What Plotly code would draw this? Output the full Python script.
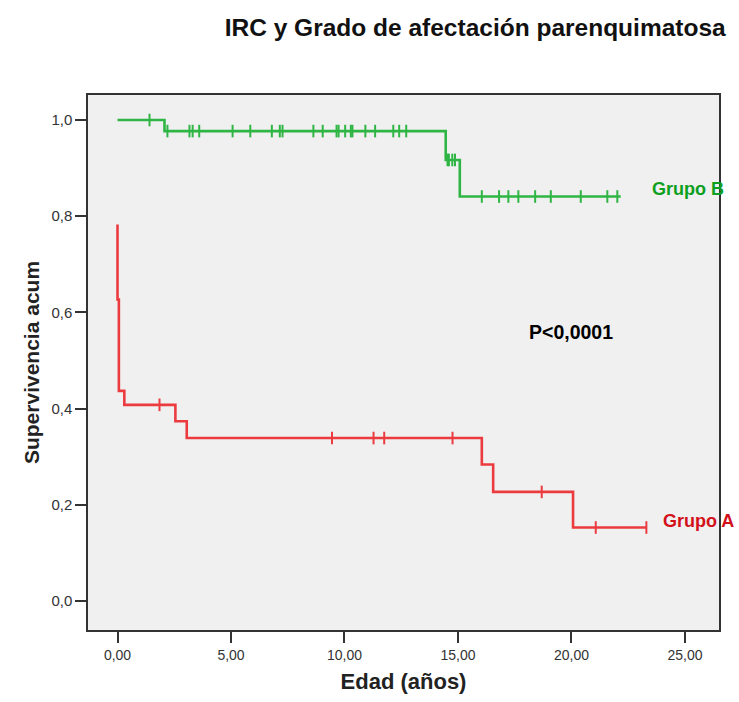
import plotly.graph_objects as go

# Grupo B (green) Kaplan-Meier steps
b_step_t = [0.0, 2.07, 14.46, 15.08]
b_step_s = [1.0, 0.977, 0.917, 0.841]
b_end = 22.17
b_cens = [1.41, 2.2, 3.17, 3.31, 3.6, 5.07, 5.85, 6.8, 7.15, 7.27, 8.63, 9.04,
          9.65, 9.74, 10.03, 10.28, 10.35, 10.92, 11.35, 12.15, 12.41, 12.72,
          14.54, 14.6, 14.75, 14.87, 16.05, 16.81, 17.22, 17.66, 18.4, 19.09,
          20.41, 21.58, 22.02]

# Grupo A (red)
a_step_t = [0.0, 0.0, 0.06, 0.3, 2.55, 3.05, 16.05, 16.55, 20.07]
a_step_s = [0.783, 0.627, 0.437, 0.408, 0.374, 0.339, 0.284, 0.227, 0.153]
a_end = 23.3
a_cens = [1.85, 9.45, 11.28, 11.75, 14.76, 18.69, 21.07, 23.3]

x_ticks = [0, 5, 10, 15, 20, 25]
x_labels = ["0,00", "5,00", "10,00", "15,00", "20,00", "25,00"]
y_ticks = [0.0, 0.2, 0.4, 0.6, 0.8, 1.0]
y_labels = ["0,0", "0,2", "0,4", "0,6", "0,8", "1,0"]

GREEN = "#2fb544"
RED = "#ec3b3f"


def surv_at(t, ts, ss):
    v = ss[0]
    for ti, si in zip(ts, ss):
        if ti <= t:
            v = si
    return v


fig = go.Figure()
for ts, ss, end, cens, col in [(b_step_t, b_step_s, b_end, b_cens, GREEN),
                               (a_step_t, a_step_s, a_end, a_cens, RED)]:
    xs = list(ts) + [end]
    ys = list(ss) + [ss[-1]]
    fig.add_trace(go.Scatter(x=xs, y=ys, mode="lines", line=dict(color=col, width=2.6, shape="hv"),
                             showlegend=False, hoverinfo="skip"))
    fig.add_trace(go.Scatter(x=cens, y=[surv_at(c, ts, ss) for c in cens], mode="markers",
                             marker=dict(symbol="line-ns", size=9, line=dict(color=col, width=2)),
                             showlegend=False, hoverinfo="skip"))

fig.add_annotation(x=23.45, y=0.857, text="<b>Grupo B</b>", showarrow=False, xanchor="left",
                   font=dict(color="#0d9f20", size=18, family="Liberation Sans"))
fig.add_annotation(x=23.95, y=0.166, text="<b>Grupo A</b>", showarrow=False, xanchor="left",
                   font=dict(color="#d3101a", size=18, family="Liberation Sans"))
fig.add_annotation(x=20.0, y=0.559, text="<b>P<0,0001</b>", showarrow=False,
                   font=dict(color="black", size=19.5, family="Liberation Sans"))

fig.update_layout(
    width=739, height=702,
    margin=dict(l=88, r=20, t=95, b=70),
    paper_bgcolor="white", plot_bgcolor="#f0f0f0",
    font=dict(family="Liberation Sans", color="#333333"),
    title=dict(text="<b>IRC y Grado de afectación parenquimatosa</b>", x=0.643, xanchor="center",
               y=0.961, yanchor="middle", font=dict(size=24.5, color="#111111")),
    xaxis=dict(range=[-1.3, 26.5], tickvals=x_ticks, ticktext=x_labels, showgrid=False, zeroline=False,
               ticks="outside", ticklen=11, tickwidth=1.5, tickcolor="#333333",
               showline=True, linecolor="#333333", linewidth=1.5, mirror=True,
               tickfont=dict(size=14, color="#333333"),
               title=dict(text="<b>Edad (años)</b>", font=dict(size=22, color="#222222"), standoff=12)),
    yaxis=dict(range=[-0.06, 1.052], tickvals=y_ticks, ticktext=y_labels, showgrid=False, zeroline=False,
               ticks="outside", ticklen=11, tickwidth=1.5, tickcolor="#333333",
               showline=True, linecolor="#333333", linewidth=1.5, mirror=True,
               tickfont=dict(size=15, color="#333333"),
               title=dict(text="<b>Supervivencia acum</b>", font=dict(size=21, color="#222222"), standoff=6)),
)

fig.write_html("out.html")
